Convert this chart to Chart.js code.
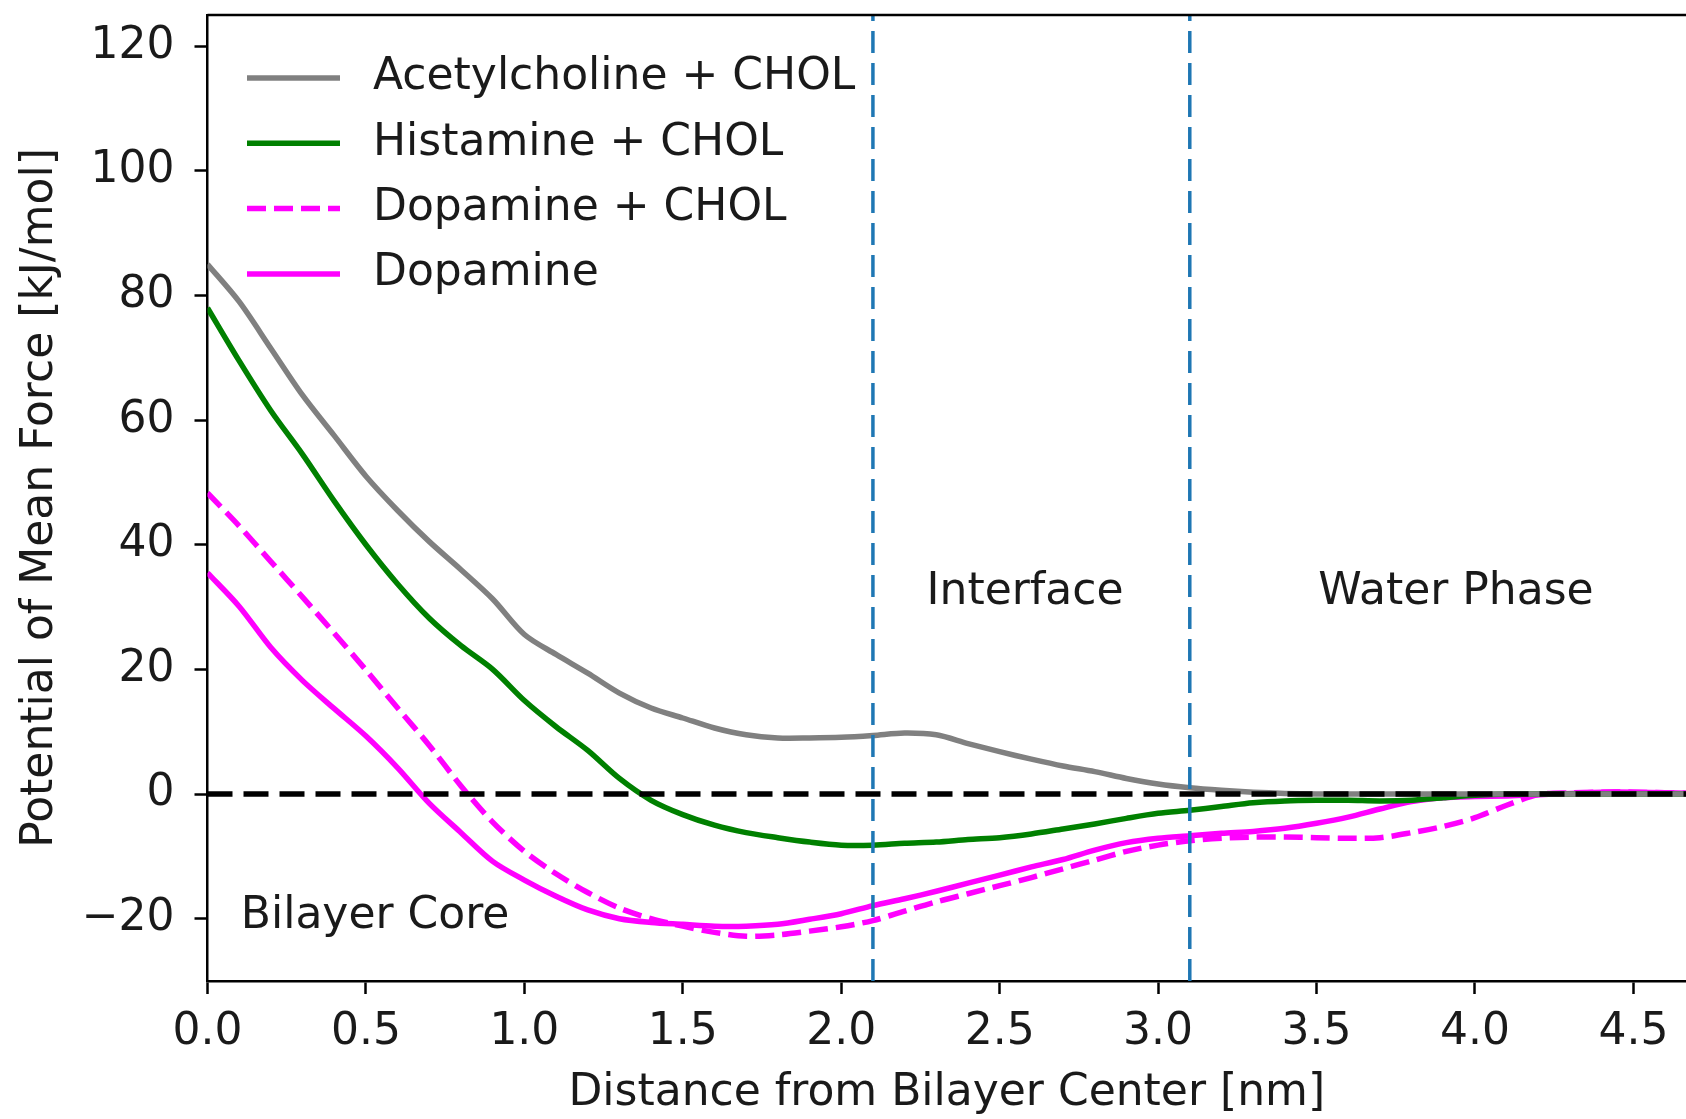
<!DOCTYPE html>
<html>
<head>
<meta charset="utf-8">
<script src="https://cdn.jsdelivr.net/npm/chart.js@4.4.0/dist/chart.umd.min.js"></script>
<style>
  body { margin: 0; background: #fff; }
  #wrap { width: 1686px; height: 1119px; }
</style>
</head>
<body>
<div id="wrap"><canvas id="pmf" width="1686" height="1119"></canvas></div>
<script>
// distance from bilayer center [nm]
const distance = [0.0, 0.1, 0.2, 0.3, 0.4, 0.5, 0.6, 0.7, 0.8, 0.9,
    1.0, 1.1, 1.2, 1.3, 1.4, 1.5, 1.6, 1.7, 1.8, 1.9,
    2.0, 2.1, 2.2, 2.3, 2.4, 2.5, 2.6, 2.7, 2.8, 2.9,
    3.0, 3.1, 3.2, 3.3, 3.4, 3.5, 3.6, 3.7, 3.8, 3.9,
    4.0, 4.1, 4.2, 4.3, 4.4, 4.5, 4.6, 4.67];

// PMF [kJ/mol]
const acetylcholineChol = [85, 79, 71.5, 64, 57.5, 51, 45.5, 40.5, 36, 31.3,
    25.6, 22.4, 19.4, 16.2, 13.8, 12.2, 10.6, 9.5, 9.0, 9.0,
    9.1, 9.4, 9.8, 9.5, 8.1, 6.8, 5.6, 4.5, 3.6, 2.5,
    1.6, 1.0, 0.6, 0.3, 0.1, 0, 0, 0, 0, 0,
    0, 0, 0, 0, 0, 0, 0, 0];
const histamineChol = [78, 69.5, 61.5, 54.5, 47, 40, 33.7, 28.2, 23.8, 20,
    15, 10.8, 7, 2.5, -1, -3.3, -5, -6.2, -7, -7.7,
    -8.2, -8.2, -7.9, -7.7, -7.3, -7.0, -6.4, -5.6, -4.8, -3.9,
    -3.1, -2.6, -2.0, -1.4, -1.1, -1.0, -1.0, -1.1, -1.0, -0.6,
    -0.2, 0, 0, 0, 0, 0, 0, 0];
const dopamineChol = [48.3, 43, 37.3, 31.6, 25.8, 19.9, 13.8, 7.8, 1.3, -4.5,
    -9.2, -12.8, -15.8, -18.3, -20, -21.2, -22.2, -22.8, -22.6, -22,
    -21.3, -20.3, -18.8, -17.3, -16.0, -14.7, -13.4, -12.0, -10.6, -9.2,
    -8.2, -7.5, -7.1, -6.9, -6.9, -7.0, -7.1, -7.0, -6.2, -5.2,
    -3.8, -1.8, -0.1, 0.2, 0.3, 0.3, 0.2, 0.1];
const dopamine = [35.5, 30.1, 23.5, 18.2, 13.7, 9.3, 4.2, -1.5, -6.2, -10.8,
    -13.8, -16.4, -18.6, -20, -20.6, -20.9, -21.2, -21.2, -20.9, -20.1,
    -19.2, -17.9, -16.8, -15.6, -14.3, -13.0, -11.7, -10.5, -9.0, -7.8,
    -7.1, -6.7, -6.3, -6.0, -5.5, -4.7, -3.7, -2.4, -1.2, -0.6,
    -0.4, -0.3, -0.1, 0.1, 0.3, 0.3, 0.2, 0.1];

const boundaries = [2.1, 3.1];
const xTicks = [0, 0.5, 1.0, 1.5, 2.0, 2.5, 3.0, 3.5, 4.0, 4.5];
const yTicks = [-20, 0, 20, 40, 60, 80, 100, 120];
const X_MIN = 0, X_MAX = 4.666, Y_MIN = -30, Y_MAX = 125;

const FONT = '"DejaVu Sans", "Liberation Sans", sans-serif';
const DASH = [19, 8];
const toPoints = ys => distance.map((x, i) => ({ x: x, y: ys[i] }));

const curves = [
    { label: 'Acetylcholine + CHOL', data: toPoints(acetylcholineChol), borderColor: '#808080', borderDash: [] },
    { label: 'Histamine + CHOL', data: toPoints(histamineChol), borderColor: '#008000', borderDash: [] },
    { label: 'Dopamine + CHOL', data: toPoints(dopamineChol), borderColor: '#ff00ff', borderDash: DASH },
    { label: 'Dopamine', data: toPoints(dopamine), borderColor: '#ff00ff', borderDash: [] }
].map(d => Object.assign(d, { borderWidth: 5.5, pointRadius: 0, tension: 0.3, showLine: true, order: 2, inLegend: true }));

// reference lines: y = 0 and the two region boundaries
const refLines = [
    { data: [{ x: X_MIN, y: 0 }, { x: X_MAX, y: 0 }], borderColor: '#000', borderWidth: 5.5, borderDash: [25, 11] }
].concat(boundaries.map(b => ({
    data: [{ x: b, y: Y_MIN }, { x: b, y: Y_MAX }], borderColor: '#1f77b4', borderWidth: 3.5, borderDash: [22, 10]
}))).map(d => Object.assign(d, { pointRadius: 0, showLine: true, order: 1, inLegend: false }));

// frame top, legend, region labels
const decor = {
    id: 'decor',
    afterDraw(chart) {
        const ctx = chart.ctx, a = chart.chartArea;
        const xs = chart.scales.x, ys = chart.scales.y;
        ctx.save();
        ctx.strokeStyle = '#000';
        ctx.lineWidth = 2.5;
        ctx.beginPath();
        ctx.moveTo(a.left, a.top);
        ctx.lineTo(a.right, a.top);
        ctx.stroke();

        ctx.font = '44px ' + FONT;
        ctx.fillStyle = '#1a1a1a';
        ctx.textBaseline = 'middle';

        // legend
        let rowY = 78;
        chart.data.datasets.filter(d => d.inLegend).forEach(d => {
            ctx.strokeStyle = d.borderColor;
            ctx.lineWidth = d.borderWidth;
            ctx.setLineDash(d.borderDash);
            ctx.beginPath();
            ctx.moveTo(247, rowY);
            ctx.lineTo(340, rowY);
            ctx.stroke();
            ctx.setLineDash([]);
            ctx.textAlign = 'left';
            ctx.fillText(d.label, 373, rowY);
            rowY += 65.3;
        });

        ctx.textAlign = 'center';
        ctx.fillText('Interface', xs.getPixelForValue(2.58), ys.getPixelForValue(32.4));
        ctx.fillText('Water Phase', xs.getPixelForValue(3.94), ys.getPixelForValue(32.4));
        ctx.textAlign = 'left';
        ctx.fillText('Bilayer Core', xs.getPixelForValue(0.105), ys.getPixelForValue(-19.7));
        ctx.restore();
    }
};

new Chart(document.getElementById('pmf'), {
    type: 'scatter',
    data: { datasets: curves.concat(refLines) },
    options: {
        responsive: false,
        animation: false,
        devicePixelRatio: 1,
        layout: { padding: { top: 15, right: 0, left: 0, bottom: 0 } },
        plugins: { legend: { display: false }, tooltip: { enabled: false } },
        scales: {
            x: {
                type: 'linear', min: X_MIN, max: X_MAX,
                afterBuildTicks: s => { s.ticks = xTicks.map(v => ({ value: v })); },
                afterFit: s => { s.height = 138; s.paddingLeft = 0; s.paddingRight = 0; },
                border: { color: '#000', width: 2.5 },
                grid: { drawOnChartArea: false, drawTicks: true, tickLength: 13, tickWidth: 2.5, color: '#000' },
                ticks: { color: '#1a1a1a', padding: 12, font: { family: FONT, size: 44 }, maxRotation: 0,
                    callback: v => v.toFixed(1) },
                title: { display: true, text: 'Distance from Bilayer Center [nm]', color: '#1a1a1a',
                    font: { family: FONT, size: 44, lineHeight: 1.0 }, padding: { top: 0, bottom: 3 } }
            },
            y: {
                type: 'linear', min: Y_MIN, max: Y_MAX,
                afterBuildTicks: s => { s.ticks = yTicks.map(v => ({ value: v })); },
                afterFit: s => { s.width = 207.5; s.paddingTop = 0; s.paddingBottom = 0; },
                border: { color: '#000', width: 2.5 },
                grid: { drawOnChartArea: false, drawTicks: true, tickLength: 13, tickWidth: 2.5, color: '#000' },
                ticks: { color: '#1a1a1a', padding: 20, font: { family: FONT, size: 44 },
                    callback: v => v < 0 ? '\u2212' + Math.abs(v) : String(v) },
                title: { display: true, text: 'Potential of Mean Force [kJ/mol]', color: '#1a1a1a',
                    font: { family: FONT, size: 44, lineHeight: 1.0 }, padding: { top: 19, bottom: 0 } }
            }
        }
    },
    plugins: [decor]
});
</script>
</body>
</html>
